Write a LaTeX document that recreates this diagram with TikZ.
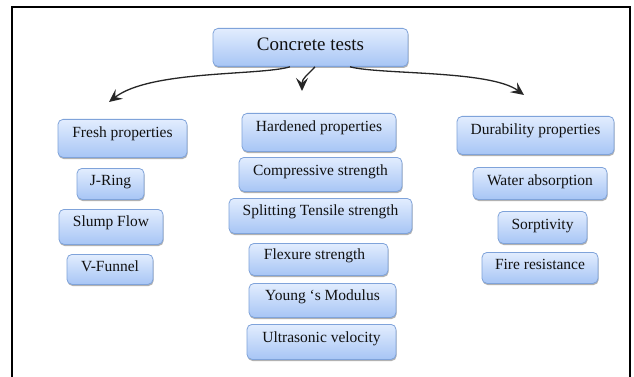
\documentclass[tikz,border=0pt]{standalone}
\usepackage{fontspec}
\setmainfont{Liberation Serif}
\newfontfamily\tnr{Liberation Serif}
\usetikzlibrary{arrows.meta,shadows}
\definecolor{boxtop}{HTML}{E2EDFE}
\definecolor{boxbot}{HTML}{A7C5F5}
\definecolor{boxline}{HTML}{7FA3DA}
\definecolor{txt}{HTML}{111111}
\tikzset{
  tbox/.style={draw=boxline, line width=0.8pt, rounded corners=5pt,
    top color=boxtop, bottom color=boxbot, text=txt,
    inner xsep=0pt, inner ysep=0pt, anchor=north,
    font=\tnr\fontsize{15.5}{18}\selectfont,
    drop shadow={shadow xshift=0.6pt, shadow yshift=-1.6pt, fill=black!55, opacity=0.55}},
  conn/.style={line width=1.3pt, draw=black!85,
    -{Stealth[length=13pt,width=12pt,inset=5pt]}},
}
\begin{document}
\begin{tikzpicture}[x=1pt,y=-1pt]
\useasboundingbox (0,0) rectangle (634,377);
\fill[white] (0,0) rectangle (634,377);
% frame
\draw[line width=1.6pt, line cap=rect] (12,377) -- (12,7) -- (630,7) -- (630,377);

% root
\node[tbox, minimum width=195pt, text height=22.5pt, text depth=15.5pt,
  font=\tnr\fontsize{19}{22}\selectfont] (ct) at (310.5,28) {Concrete tests};

% fresh column
\node[tbox, minimum width=129pt, text height=18pt, text depth=20pt] (fresh) at (122.5,119) {Fresh properties};
\node[tbox, minimum width=67pt, text height=17pt, text depth=14pt] (jring) at (110.5,168) {J-Ring};
\node[tbox, minimum width=104pt, text height=17pt, text depth=18pt] (slump) at (111,209) {Slump Flow};
\node[tbox, minimum width=86pt, text height=17pt, text depth=13pt] (vfun) at (110,254) {V-Funnel};

% hardened column
\node[tbox, minimum width=154pt, text height=18pt, text depth=20pt] (hard) at (319,113) {Hardened properties};
\node[tbox, minimum width=163pt, text height=18pt, text depth=16pt] (comp) at (320.5,157) {Compressive strength};
\node[tbox, minimum width=183pt, text height=17pt, text depth=18pt] (split) at (320.5,198) {Splitting Tensile strength};
\node[tbox, minimum width=139pt, text height=16pt, text depth=16pt] (flex) at (318.5,243) {Flexure strength\hspace*{8pt}};
\node[tbox, minimum width=147pt, text height=17pt, text depth=17pt] (young) at (322.5,283) {Young ‘s Modulus};
\node[tbox, minimum width=149pt, text height=18pt, text depth=17pt] (ultra) at (321.5,324) {Ultrasonic velocity};

% durability column
\node[tbox, minimum width=157pt, text height=18pt, text depth=20pt] (dur) at (535.5,116) {Durability properties};
\node[tbox, minimum width=134pt, text height=18pt, text depth=14pt] (water) at (540,167) {Water absorption};
\node[tbox, minimum width=89pt, text height=18pt, text depth=14pt] (sorp) at (542.5,211) {Sorptivity};
\node[tbox, minimum width=116pt, text height=17pt, text depth=14pt] (fire) at (540,252) {Fire resistance};

% arrow tips
\coordinate (tipF) at (109,102);
\coordinate (tipH) at (302,91);
\coordinate (tipD) at (524,95);

\draw[conn] ([xshift=-20.5pt]ct.south) .. controls +(-30,9) and (150,70) .. (tipF);
\draw[conn] ([xshift=4.5pt]ct.south) .. controls +(-7,8) and (302,78) .. (tipH);
\draw[conn] ([xshift=39.5pt]ct.south) .. controls +(30,8) and (490,70) .. (tipD);
\end{tikzpicture}
\end{document}
